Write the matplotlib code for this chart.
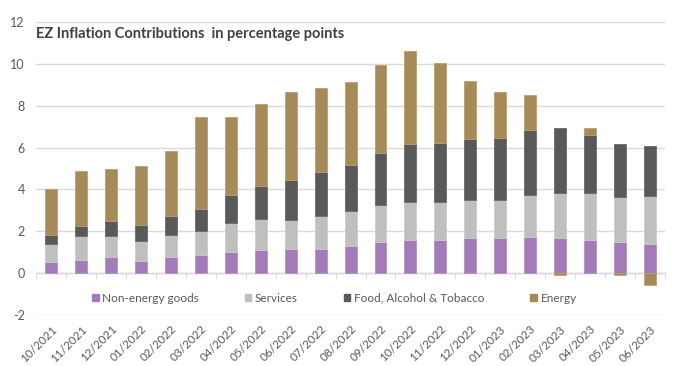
import matplotlib
matplotlib.use("Agg")
import matplotlib.pyplot as plt
from matplotlib.patches import Patch
import numpy as np

plt.rcParams['font.family'] = ['Lato', 'DejaVu Sans']

months = ["10/2021", "11/2021", "12/2021", "01/2022", "02/2022", "03/2022", "04/2022",
          "05/2022", "06/2022", "07/2022", "08/2022", "09/2022", "10/2022", "11/2022",
          "12/2022", "01/2023", "02/2023", "03/2023", "04/2023", "05/2023", "06/2023"]
non_energy = [0.56, 0.64, 0.78, 0.57, 0.78, 0.88, 1.00, 1.10, 1.15, 1.15, 1.31, 1.48,
              1.59, 1.59, 1.70, 1.70, 1.74, 1.70, 1.61, 1.51, 1.42]
services = [0.84, 1.16, 1.02, 0.97, 1.05, 1.14, 1.40, 1.48, 1.40, 1.60, 1.64, 1.77,
            1.82, 1.79, 1.80, 1.80, 2.00, 2.11, 2.20, 2.12, 2.29]
food = [0.43, 0.46, 0.68, 0.75, 0.91, 1.05, 1.34, 1.59, 1.88, 2.07, 2.24, 2.47,
        2.77, 2.83, 2.90, 2.98, 3.11, 3.12, 2.77, 2.55, 2.37]
energy = [2.21, 2.60, 2.49, 2.81, 3.12, 4.37, 3.70, 3.90, 4.22, 4.02, 3.95, 4.22,
          4.44, 3.82, 2.80, 2.17, 1.64, -0.07, 0.35, -0.10, -0.56]

series_names = ["Non-energy goods", "Services", "Food, Alcohol & Tobacco", "Energy"]
colors = ["#A47BB9", "#BFBFBF", "#595959", "#A68A58"]
edges = ["#B592C6", "#CCCCCC", "#6A6A6A", "#B9A070"]

fig = plt.figure(figsize=(6.8, 3.66), dpi=100)
ax = fig.add_axes([0.053, 0.139, 0.925, 0.801])

x = np.arange(len(months))
w = 0.4
ne = np.array(non_energy); sv = np.array(services); fd = np.array(food); en = np.array(energy)
ax.bar(x, ne, w, color=colors[0], edgecolor=edges[0], linewidth=0.6, zorder=3)
ax.bar(x, sv, w, bottom=ne, color=colors[1], edgecolor=edges[1], linewidth=0.6, zorder=3)
ax.bar(x, fd, w, bottom=ne + sv, color=colors[2], edgecolor=edges[2], linewidth=0.6, zorder=3)
en_bottom = np.where(en >= 0, ne + sv + fd, 0.0)
ax.bar(x, en, w, bottom=en_bottom, color=colors[3], edgecolor=edges[3], linewidth=0.6, zorder=3)

ax.set_xlim(-0.5, len(months) - 0.5)
ax.set_ylim(-2, 12)
ax.set_yticks(np.arange(-2, 13, 2))
ax.set_yticklabels([str(v) for v in range(-2, 13, 2)])
ax.yaxis.grid(True, color="#D9D9D9", linewidth=1.0, zorder=0)
ax.tick_params(axis='y', length=0, labelsize=9, labelcolor="#595959", pad=8)

for s in ['top', 'right', 'left']:
    ax.spines[s].set_visible(False)
ax.spines['bottom'].set_position(('data', 0))
ax.spines['bottom'].set_color("#D9D9D9")
ax.spines['bottom'].set_linewidth(1.0)
ax.set_xticks(x)
ax.set_xticklabels([])
ax.tick_params(axis='x', which='major', length=0)
ax.set_xticks(np.arange(-0.5, len(months), 1.0), minor=True)
ax.tick_params(axis='x', which='minor', length=4, color="#D9D9D9", direction='out')

sec = ax.secondary_xaxis(0.0)
sec.set_xticks(x)
sec.set_xticklabels(months, rotation=45, ha='right', rotation_mode='anchor')
sec.tick_params(length=0, labelsize=8.5, labelcolor="#595959", pad=6)
sec.spines['bottom'].set_visible(False)

handles = [Patch(facecolor=c, edgecolor=c) for c in colors]
leg = ax.legend(handles, series_names, loc='center left', bbox_to_anchor=(0.089, 0.058),
                ncol=4, frameon=False, fontsize=8.5, handlelength=0.55, handleheight=0.55,
                handletextpad=0.3, columnspacing=3.9, borderpad=0, borderaxespad=0)
for t in leg.get_texts():
    t.set_color("#595959")

fig.text(0.053, 0.895, "EZ Inflation Contributions  in percentage points",
         fontsize=10.5, fontweight='bold', color="#404040")

fig.savefig("out.png", dpi=100)
